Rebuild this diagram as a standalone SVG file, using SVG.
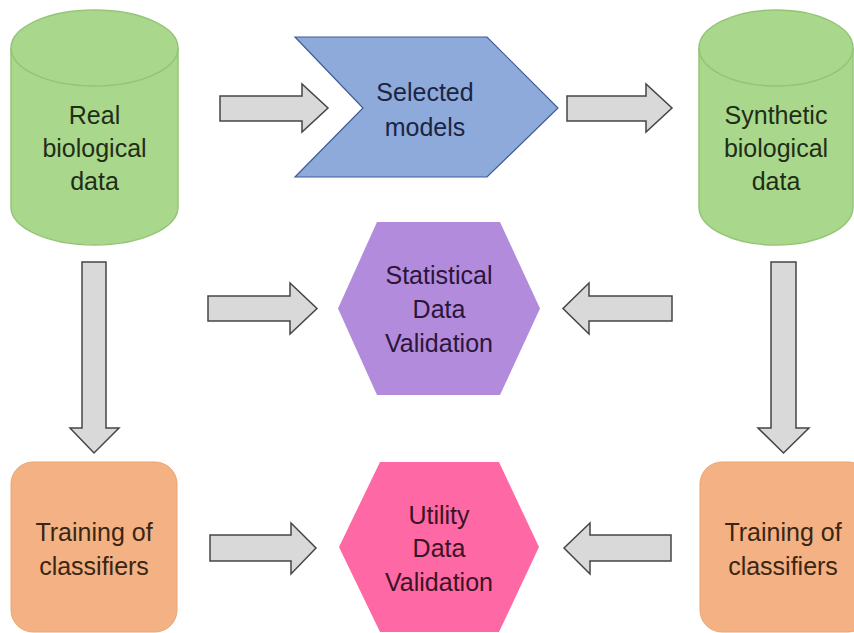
<svg xmlns="http://www.w3.org/2000/svg" width="854" height="633" viewBox="0 0 854 633">
<style>
text{font-family:"Liberation Sans",Arial,sans-serif;font-size:25px;text-anchor:middle;dominant-baseline:central}
.arrow{fill:#d9d9d9;stroke:#454545;stroke-width:1.5;stroke-linejoin:miter}
.cyl{fill:#a9d78c;stroke:#94c576;stroke-width:1.5}
.g{fill:#1f2e16}
.o{fill:#3a2614}
</style>
<rect width="854" height="633" fill="#ffffff"/>
<g id="real-data">
<path class="cyl" d="M11,48 L11,207 A83.5,38 0 0 0 178,207 L178,48 A83.5,38 0 0 0 11,48 Z"/>
<path d="M11,48 A83.5,38 0 0 0 178,48" fill="none" stroke="#94c576" stroke-width="1.5"/>
<text class="g" x="94.5" y="115">Real</text>
<text class="g" x="94.5" y="148">biological</text>
<text class="g" x="94.5" y="181">data</text>
</g>
<g id="selected-models">
<polygon points="295,37 487,37 558,108 487,177 295,177 363,108" fill="#8eaadb" stroke="#3d5c96" stroke-width="1.2"/>
<text x="425" y="92" fill="#1b2542">Selected</text>
<text x="425" y="127" fill="#1b2542">models</text>
</g>
<g id="synthetic-data">
<path class="cyl" d="M699,48 L699,207 A77,38 0 0 0 853,207 L853,48 A77,38 0 0 0 699,48 Z"/>
<path d="M699,48 A77,38 0 0 0 853,48" fill="none" stroke="#94c576" stroke-width="1.5"/>
<text class="g" x="776" y="115">Synthetic</text>
<text class="g" x="776" y="148">biological</text>
<text class="g" x="776" y="181">data</text>
</g>
<g id="statistical-validation">
<polygon points="377,222 500,222 540,308.5 500,395 377,395 338,308.5" fill="#b38bdc"/>
<text x="439" y="275" fill="#2a163a">Statistical</text>
<text x="439" y="309" fill="#2a163a">Data</text>
<text x="439" y="343" fill="#2a163a">Validation</text>
</g>
<g id="training-real">
<rect x="11" y="462" width="166" height="170" rx="22" fill="#f4b183" stroke="#e9a472" stroke-width="1"/>
<text class="o" x="94" y="532">Training of</text>
<text class="o" x="94" y="566">classifiers</text>
</g>
<g id="utility-validation">
<polygon points="380,462 499,462 539,547 499,632 380,632 339,547" fill="#fe68a5"/>
<text x="439" y="515" fill="#3a1424">Utility</text>
<text x="439" y="548" fill="#3a1424">Data</text>
<text x="439" y="582" fill="#3a1424">Validation</text>
</g>
<g id="training-synthetic">
<rect x="700" y="462" width="170" height="170" rx="22" fill="#f4b183" stroke="#e9a472" stroke-width="1"/>
<text class="o" x="783" y="532">Training of</text>
<text class="o" x="783" y="566">classifiers</text>
</g>
<g id="connectors">
<polygon class="arrow" points="220,96 302,96 302,84 328,108 302,132 302,121 220,121"/>
<polygon class="arrow" points="567,96 646,96 646,84 672,108 646,132 646,121 567,121"/>
<polygon class="arrow" points="208,296 290,296 290,283 317,308.5 290,334 290,321 208,321"/>
<polygon class="arrow" points="672,296 589,296 589,283 563,308.5 589,334 589,321 672,321"/>
<polygon class="arrow" points="210,535 291,535 291,523 316,548 291,574 291,561 210,561"/>
<polygon class="arrow" points="671,535 590,535 590,523 564,548 590,574 590,561 671,561"/>
<polygon class="arrow" points="82,262 106,262 106,428 119,428 94,453 70,428 82,428"/>
<polygon class="arrow" points="771,262 796,262 796,428 809,428 783.5,453 758,428 771,428"/>
</g>
</svg>
